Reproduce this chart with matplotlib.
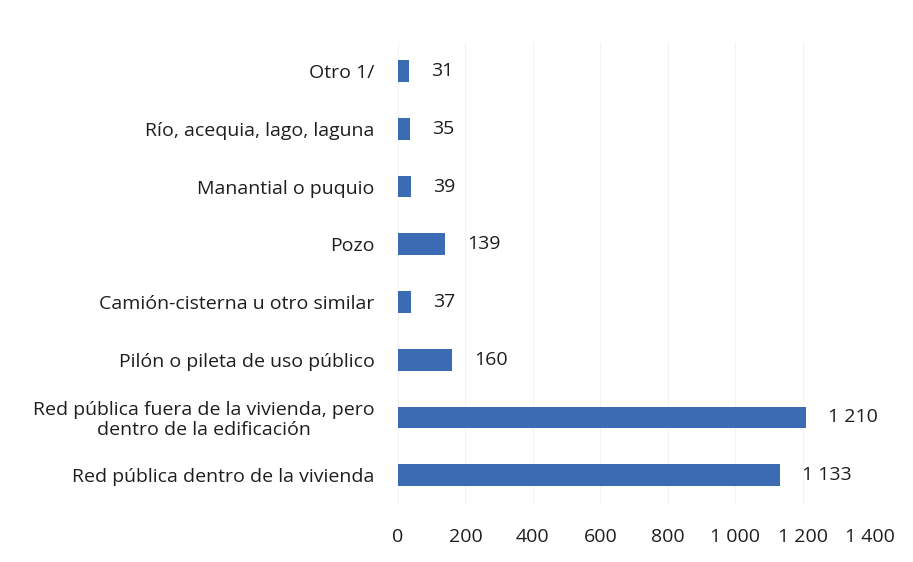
import matplotlib
matplotlib.use("Agg")
import matplotlib.pyplot as plt
from matplotlib.ticker import FuncFormatter

categories = [
    "Red pública dentro de la vivienda",
    "Red pública fuera de la vivienda, pero\ndentro de la edificación",
    "Pilón o pileta de uso público",
    "Camión-cisterna u otro similar",
    "Pozo",
    "Manantial o puquio",
    "Río, acequia, lago, laguna",
    "Otro 1/",
]
values = [1133, 1210, 160, 37, 139, 39, 35, 31]
xticks = [0, 200, 400, 600, 800, 1000, 1200, 1400]


def fmt_thousands(v):
    return f"{int(v):,}".replace(",", " ")


plt.rcParams["font.family"] = ["Open Sans", "DejaVu Sans"]
fig = plt.figure(figsize=(9.13, 5.62), dpi=100)
ax = fig.add_axes([0.436, 0.103, 0.517, 0.822])

bar_color = "#3a6bb3"
fs = 14
pos = range(len(categories))
ax.barh(list(pos), values, height=0.38, color=bar_color)

for y, v in zip(pos, values):
    ax.annotate(fmt_thousands(v), (v, y), xytext=(16, 0), textcoords="offset points",
                va="center", ha="left", fontsize=fs, color="#1e1e1e")

ax.set_xlim(0, 1400)
ax.set_ylim(-0.5, len(categories) - 0.5)
ax.set_xticks(xticks)
ax.xaxis.set_major_formatter(FuncFormatter(lambda v, p: fmt_thousands(v)))
ax.set_yticks(list(pos))
ax.set_yticklabels(categories, multialignment="center", linespacing=1.12)
ax.tick_params(axis="y", length=0, pad=17, labelsize=fs, labelcolor="#1e1e1e")
ax.tick_params(axis="x", length=0, pad=17, labelsize=fs, labelcolor="#1e1e1e")
ax.xaxis.grid(True, color="#f3f3f3", linewidth=0.8)
ax.set_axisbelow(True)
for s in ax.spines.values():
    s.set_visible(False)

fig.savefig("out.png", dpi=100)
